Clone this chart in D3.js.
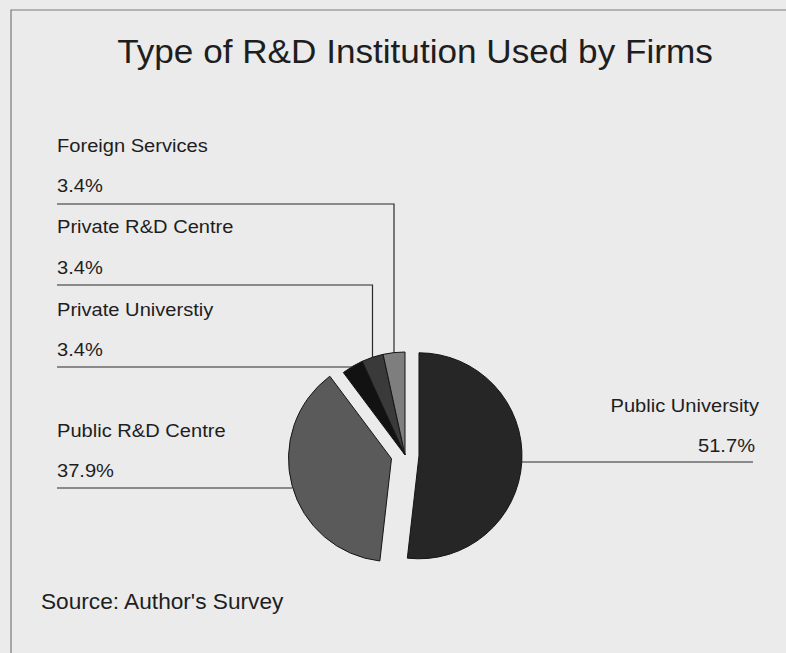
<!DOCTYPE html>
<html>
<head>
<meta charset="utf-8">
<script src="https://cdn.jsdelivr.net/npm/d3@7"></script>
<style>
  html, body { margin: 0; padding: 0; background: #ebebeb; }
  svg { display: block; }
  text { font-family: "Liberation Sans", Arial, sans-serif; fill: #1e1e1e; }
</style>
</head>
<body>
<svg id="chart" width="786" height="653"></svg>
<script>
// Survey shares by type of R&D institution (percent)
const categories = ["Public University", "Public R&D Centre", "Private Universtiy", "Private R&D Centre", "Foreign Services"];
const shares = [51.7, 37.9, 3.4, 3.4, 3.4];
const valueLabels = ["51.7%", "37.9%", "3.4%", "3.4%", "3.4%"];

const titleText = "Type of R&D Institution Used by Firms";
const sourceText = "Source: Author's Survey";

const W = 786, H = 653;
const svg = d3.select("#chart");

// Panel background and frame (top and left edges)
svg.append("rect").attr("width", W).attr("height", H).attr("fill", "#ebebeb");
svg.append("path")
  .attr("d", `M11,${H} V10 H${W}`)
  .attr("fill", "none").attr("stroke", "#7a7a7a").attr("stroke-width", 1.2);

// Title
svg.append("text")
  .attr("transform", "translate(415,63) scale(1.065,1)")
  .attr("text-anchor", "middle")
  .attr("font-size", 33)
  .text(titleText);

// Pie geometry
const cx = 405, cy = 455, r = 103;
const fills = ["#262626", "#5a5a5a", "#121212", "#3a3a3a", "#7e7e7e"];
const explode = [14, 14, 0, 0, 0];

const data = categories.map((c, i) => ({ name: c, value: shares[i], label: valueLabels[i], fill: fills[i], explode: explode[i] }));
const pie = d3.pie().value(d => d.value).sort(null);
const arcs = pie(data);
const arc = d3.arc().innerRadius(0).outerRadius(r);

function offset(a) {
  const mid = (a.startAngle + a.endAngle) / 2;
  return [Math.sin(mid) * a.data.explode, -Math.cos(mid) * a.data.explode];
}
// point on the rim at the middle of a slice
function rimPoint(a) {
  const mid = (a.startAngle + a.endAngle) / 2;
  const [dx, dy] = offset(a);
  return [cx + dx + Math.sin(mid) * r, cy + dy - Math.cos(mid) * r];
}

const g = svg.append("g");
g.selectAll("path.slice")
  .data(arcs)
  .join("path")
  .attr("class", "slice")
  .attr("transform", a => { const [dx, dy] = offset(a); return `translate(${cx + dx},${cy + dy})`; })
  .attr("d", arc)
  .attr("fill", a => a.data.fill)
  .attr("stroke", "#151515")
  .attr("stroke-width", 1)
  .attr("stroke-linejoin", "round");

// Label rows: name baseline, value baseline, leader line y
const labelLayout = [
  { side: "right", x: 759, nameY: 412, valY: 452, lineY: 462, valX: 755, lineEnd: 753 },
  { side: "left", x: 57, nameY: 437, valY: 477, lineY: 488 },
  { side: "left", x: 57, nameY: 316, valY: 356, lineY: 367 },
  { side: "left", x: 57, nameY: 233, valY: 274, lineY: 285 },
  { side: "left", x: 57, nameY: 152, valY: 192, lineY: 204 }
];

const lines = svg.append("g").attr("fill", "none").attr("stroke", "#2a2a2a").attr("stroke-width", 1.2);
const labels = svg.append("g");

arcs.forEach((a, i) => {
  const L = labelLayout[i];
  const [px, py] = rimPoint(a);
  let pts;
  if (L.side === "right") {
    pts = [[px, L.lineY], [L.lineEnd, L.lineY]];
  } else if (Math.abs(py - L.lineY) < 3) {
    pts = [[L.x, L.lineY], [px, L.lineY]];
  } else if (py > L.lineY + 30 && a.data.explode === 0) {
    pts = [[L.x, L.lineY], [px, L.lineY], [px, py]];
  } else {
    pts = [[L.x, L.lineY], [px, L.lineY]];
  }
  lines.append("path").attr("d", d3.line()(pts));

  const anchor = L.side === "right" ? "end" : "start";
  labels.append("text")
    .attr("transform", `translate(${L.x},${L.nameY}) scale(1.075,1)`)
    .attr("text-anchor", anchor)
    .attr("font-size", 18.7)
    .text(a.data.name);
  labels.append("text")
    .attr("transform", `translate(${L.valX || L.x},${L.valY}) scale(1.075,1)`)
    .attr("text-anchor", anchor)
    .attr("font-size", 18.7)
    .text(a.data.label);
});

// Source note
svg.append("text")
  .attr("transform", "translate(41,609) scale(1.03,1)")
  .attr("font-size", 22)
  .text(sourceText);
</script>
</body>
</html>
